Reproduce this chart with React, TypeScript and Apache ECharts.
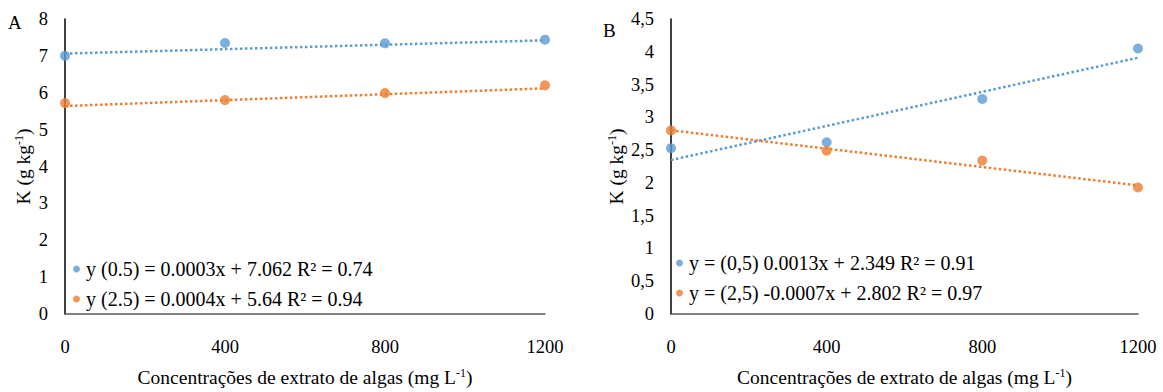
import React, { useEffect, useRef } from "react";
import * as echarts from "echarts";

const xValues = [0, 400, 800, 1200];
const xTicks = ["0", "400", "800", "1200"];

const aBlue = [7.0, 7.35, 7.34, 7.44];
const aOrange = [5.72, 5.8, 5.99, 6.2];
const aBlueFit = [7.062, 0.0003];
const aOrangeFit = [5.64, 0.0004];

const bBlue = [2.53, 2.62, 3.28, 4.05];
const bOrange = [2.8, 2.49, 2.34, 1.93];
const bBlueFit = [2.349, 0.0013];
const bOrangeFit = [2.802, -0.0007];

const aLegend = ["y (0.5) = 0.0003x + 7.062 R² = 0.74", "y (2.5) = 0.0004x + 5.64 R² = 0.94"];
const bLegend = ["y = (0,5) 0.0013x + 2.349 R² = 0.91", "y = (2,5) -0.0007x + 2.802 R² = 0.97"];

const BLUE = "#5b9bd5";
const ORANGE = "#ed7d31";
const FONT = "Liberation Serif";

const pts = (vals: number[]) => xValues.map((x, i) => [x, vals[i]]);
const fit = (f: number[]) => [[0, f[0]], [1200, f[0] + f[1] * 1200]];

export default function App() {
  const ref = useRef<HTMLDivElement>(null);
  useEffect(() => {
    const chart = echarts.init(ref.current!, null, { renderer: "svg" });
    const textStyle = { fontFamily: FONT, fontSize: 18.5, color: "#000" };
    const xAxis = (gi: number) => ({
      type: "value",
      gridIndex: gi,
      min: 0,
      max: 1200,
      interval: 400,
      axisLine: { show: true, lineStyle: { color: "#595959", width: 1.5 } },
      axisTick: { show: false },
      splitLine: { show: false },
      axisLabel: { ...textStyle, margin: 23, formatter: (v: number) => xTicks[xValues.indexOf(v)] ?? "" },
      name: "{a|Concentrações de extrato de algas (mg L}{s|-1}{a|)}",
      nameLocation: "middle",
      nameGap: 53,
      nameTextStyle: {
        rich: {
          a: { fontFamily: FONT, fontSize: 19.5, color: "#000" },
          s: { fontFamily: FONT, fontSize: 12, color: "#000", verticalAlign: "top", padding: [0, 0, 8, 0] },
        },
      },
    });
    const yAxis = (gi: number, max: number, interval: number, comma: boolean, gap: number) => ({
      type: "value",
      gridIndex: gi,
      min: 0,
      max,
      interval,
      axisLine: { show: true, lineStyle: { color: "#000", width: 1.5 } },
      axisTick: { show: false },
      splitLine: { show: false },
      axisLabel: {
        ...textStyle,
        margin: 17,
        formatter: (v: number) => (comma ? String(v).replace(".", ",") : String(v)),
      },
      name: "{a|K (g kg}{s|-1}{a|)}",
      nameLocation: "middle",
      nameGap: gap,
      nameTextStyle: {
        rich: {
          a: { fontFamily: FONT, fontSize: 19.5, color: "#000" },
          s: { fontFamily: FONT, fontSize: 12, color: "#000", verticalAlign: "top" },
        },
      },
    });
    const scatter = (name: string, data: number[][], color: string, gi: number) => ({
      name,
      type: "scatter",
      xAxisIndex: gi,
      yAxisIndex: gi,
      data,
      symbolSize: 10,
      itemStyle: { color },
      z: 3,
    });
    const trend = (data: number[][], color: string, gi: number) => ({
      type: "line",
      xAxisIndex: gi,
      yAxisIndex: gi,
      data,
      symbol: "none",
      lineStyle: { color, width: 2.5, type: [2.5, 2.5] },
      z: 2,
    });
    const legend = (names: string[], left: number, top: number) => ({
      data: names.map((n) => ({ name: n, icon: "circle" })),
      orient: "vertical",
      left,
      top,
      itemWidth: 7,
      itemHeight: 7,
      itemGap: 10,
      textStyle: { fontFamily: FONT, fontSize: 20, color: "#000", padding: [0, 0, 0, 1] },
    });
    chart.setOption({
      animation: false,
      grid: [
        { left: 65, top: 19, width: 480, height: 299 },
        { left: 671, top: 19, width: 467, height: 299 },
      ],
      xAxis: [xAxis(0), xAxis(1)],
      yAxis: [yAxis(0, 8, 1, false, 32), yAxis(1, 4.5, 0.5, true, 45)],
      legend: [legend(aLegend, 68, 254), legend(bLegend, 671, 248)],
      series: [
        trend(fit(aBlueFit), BLUE, 0),
        trend(fit(aOrangeFit), ORANGE, 0),
        scatter(aLegend[0], pts(aBlue), BLUE, 0),
        scatter(aLegend[1], pts(aOrange), ORANGE, 0),
        trend(fit(bBlueFit), BLUE, 1),
        trend(fit(bOrangeFit), ORANGE, 1),
        scatter(bLegend[0], pts(bBlue), BLUE, 1),
        scatter(bLegend[1], pts(bOrange), ORANGE, 1),
      ],
      graphic: [
        { type: "text", left: 8, top: 13, style: { text: "A", font: `19px "${FONT}"`, fill: "#000" } },
        { type: "text", left: 603, top: 21, style: { text: "B", font: `19px "${FONT}"`, fill: "#000" } },
      ],
    });
    return () => chart.dispose();
  }, []);
  return <div ref={ref} style={{ width: 1163, height: 392, position: "absolute", left: 0, top: 0, background: "#fff" }} />;
}
